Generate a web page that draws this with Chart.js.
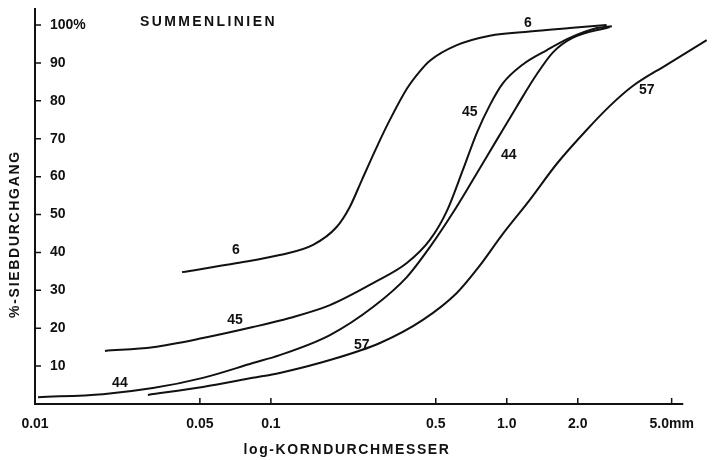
<!DOCTYPE html>
<html>
<head>
<meta charset="utf-8">
<script src="https://cdn.jsdelivr.net/npm/chart.js@4"></script>
<style>
  body { margin: 0; background: #fff; }
  #wrap { width: 718px; height: 460px; position: relative; }
</style>
</head>
<body>
<div id="wrap"><canvas id="sieve-chart"></canvas></div>
<script>
"use strict";

// Korngroesse (mm) und Siebdurchgang (%) je Kurve
var size6 = [0.042, 0.072, 0.109, 0.151, 0.19, 0.216, 0.243, 0.281, 0.319, 0.377, 0.428, 0.472, 0.614, 0.847, 1.25, 1.85, 2.65];
var pass6 = [34.8, 37.2, 39.3, 42.0, 46.7, 52.0, 59.1, 67.8, 74.9, 83.2, 87.8, 90.6, 94.7, 97.2, 98.3, 99.2, 100];

var size45 = [0.0198, 0.0316, 0.0515, 0.0839, 0.12, 0.178, 0.271, 0.377, 0.472, 0.557, 0.651, 0.746, 0.847, 0.962, 1.17, 1.48, 1.85, 2.41, 2.79];
var pass45 = [14.0, 15.0, 17.4, 20.3, 22.7, 26.1, 31.9, 37.2, 43.3, 50.9, 61.7, 71.5, 78.8, 84.6, 89.6, 93.4, 96.6, 99.2, 99.7];

var size44 = [0.0103, 0.0194, 0.0316, 0.0515, 0.0839, 0.109, 0.178, 0.271, 0.377, 0.472, 0.59, 0.718, 0.907, 1.1, 1.34, 1.57, 1.9, 2.73];
var pass44 = [1.8, 2.6, 4.2, 6.9, 10.8, 12.9, 18.2, 25.6, 33.5, 41.4, 50.4, 59.1, 69.7, 78.4, 87.0, 92.8, 96.6, 99.5];

var size57 = [0.0301, 0.0515, 0.0839, 0.109, 0.178, 0.29, 0.441, 0.614, 0.768, 0.952, 1.25, 1.63, 2.18, 2.73, 3.42, 4.76, 7.04];
var pass57 = [2.4, 4.5, 6.9, 8.2, 11.6, 16.1, 22.2, 29.3, 36.5, 44.5, 53.8, 63.4, 72.3, 78.6, 83.9, 89.5, 96.0];

// Achsen
var xTicks = [0.01, 0.05, 0.1, 0.5, 1, 2, 5];
var xTickLabels = ["0.01", "0.05", "0.1", "0.5", "1.0", "2.0", "5.0mm"];
var yTicks = [10, 20, 30, 40, 50, 60, 70, 80, 90, 100];
var xMin = 0.01, xMax = 7.2, xAxisEnd = 5.6;
var yMax = 104.5;

// Kurvenbeschriftungen: [text, mm, %]
var curveLabels = [
    ["6", 0.0711, 40.6], ["6", 1.23, 100.5],
    ["45", 0.0704, 22.2], ["45", 0.697, 77.0],
    ["44", 0.0229, 5.5], ["44", 1.02, 65.7],
    ["57", 0.243, 15.6], ["57", 3.92, 82.8]
];

var font = "'Liberation Sans', Arial, sans-serif";

function points(xs, ys) {
    return xs.map(function (v, i) { return { x: v, y: ys[i] }; });
}

function curve(label, xs, ys) {
    return {
        label: label,
        data: points(xs, ys),
        showLine: true,
        borderColor: "#111",
        borderWidth: 2,
        pointRadius: 0,
        fill: false,
        cubicInterpolationMode: "monotone"
    };
}

// Achsen, Striche und Texte
var drawExtras = {
    id: "drawExtras",
    afterDraw: function (chart) {
        var ctx = chart.ctx;
        var sx = chart.scales.x, sy = chart.scales.y;
        var x0 = sx.getPixelForValue(xMin);
        var y0 = sy.getPixelForValue(0);
        ctx.save();
        ctx.strokeStyle = "#111";
        ctx.lineWidth = 2;
        ctx.beginPath();
        ctx.moveTo(x0, sy.getPixelForValue(yMax));
        ctx.lineTo(x0, y0);
        ctx.lineTo(sx.getPixelForValue(xAxisEnd), y0);
        ctx.stroke();

        ctx.lineWidth = 1.5;
        ctx.beginPath();
        yTicks.forEach(function (v) {
            var p = sy.getPixelForValue(v);
            ctx.moveTo(x0, p);
            ctx.lineTo(x0 + 6, p);
        });
        xTicks.slice(1).forEach(function (v) {
            var p = sx.getPixelForValue(v);
            ctx.moveTo(p, y0);
            ctx.lineTo(p, y0 - 6);
        });
        ctx.stroke();

        ctx.fillStyle = "#111";
        ctx.textBaseline = "middle";
        ctx.textAlign = "center";
        ctx.font = "bold 14px " + font;
        curveLabels.forEach(function (l) {
            ctx.fillText(l[0], sx.getPixelForValue(l[1]), sy.getPixelForValue(l[2]));
        });

        ctx.textAlign = "left";
        ctx.font = "bold 14px " + font;
        ctx.letterSpacing = "2.4px";
        ctx.fillText("SUMMENLINIEN", 140, 22);

        ctx.letterSpacing = "1.6px";
        ctx.textAlign = "center";
        ctx.fillText("log-KORNDURCHMESSER", 347, 450);

        ctx.letterSpacing = "1.7px";
        ctx.translate(15, 234);
        ctx.rotate(-Math.PI / 2);
        ctx.fillText("%-SIEBDURCHGANG", 0, 0);
        ctx.restore();
    }
};

// Summenlinien
var ctx1 = document.getElementById("sieve-chart").getContext("2d");
var myChart1 = new Chart(ctx1, {
    type: "scatter",
    data: {
        datasets: [
            curve("6", size6, pass6),
            curve("45", size45, pass45),
            curve("44", size44, pass44),
            curve("57", size57, pass57)
        ]
    },
    options: {
        responsive: true,
        maintainAspectRatio: false,
        animation: false,
        layout: { padding: { left: 35, right: 9, top: 8, bottom: 0 } },
        plugins: {
            legend: { display: false },
            tooltip: { enabled: false }
        },
        scales: {
            x: {
                type: "logarithmic",
                min: xMin,
                max: xMax,
                grid: { display: false, drawTicks: false },
                border: { display: false },
                afterBuildTicks: function (s) {
                    s.ticks = xTicks.map(function (v) { return { value: v }; });
                },
                afterFit: function (s) {
                    s.height = 56;
                    s.paddingLeft = 0;
                    s.paddingRight = 0;
                },
                ticks: {
                    color: "#111",
                    padding: 12,
                    maxRotation: 0,
                    autoSkip: false,
                    font: { family: font, size: 14, weight: "bold" },
                    callback: function (v) {
                        var i = xTicks.indexOf(v);
                        return i < 0 ? "" : xTickLabels[i];
                    }
                }
            },
            y: {
                min: 0,
                max: yMax,
                grid: { display: false, drawTicks: false },
                border: { display: false },
                afterBuildTicks: function (s) {
                    s.ticks = yTicks.map(function (v) { return { value: v }; });
                },
                afterFit: function (s) {
                    s.width = 0;
                    s.paddingTop = 0;
                    s.paddingBottom = 0;
                },
                ticks: {
                    color: "#111",
                    mirror: true,
                    padding: 15,
                    font: { family: font, size: 14, weight: "bold" },
                    callback: function (v) { return v === 100 ? "100%" : String(v); }
                }
            }
        }
    },
    plugins: [drawExtras]
});
</script>
</body>
</html>
